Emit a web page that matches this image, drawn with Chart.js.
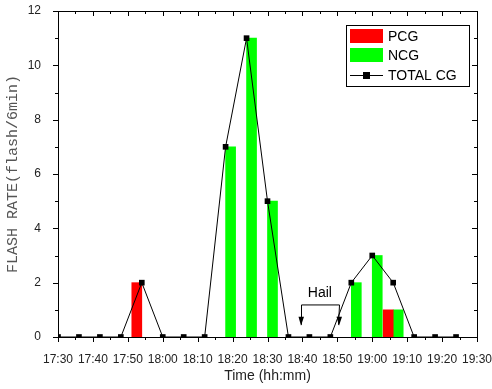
<!DOCTYPE html>
<html>
<head>
<meta charset="utf-8">
<script src="https://cdn.jsdelivr.net/npm/chart.js@4.4.1/dist/chart.umd.min.js"></script>
<style>
  html, body { margin: 0; padding: 0; background: #fff; }
  #wrap { width: 492px; height: 389px; }
</style>
</head>
<body>
<div id="wrap"><canvas id="myChart" width="492" height="389"></canvas></div>
<script>
    //=======================================================//
    // data (6 min bins)
    const times = ['17:30','17:36','17:42','17:48','17:54','18:00','18:06','18:12','18:18','18:24',
                   '18:30','18:36','18:42','18:48','18:54','19:00','19:06','19:12','19:18','19:24'];
    const pcg   = [0, 0, 0, 0, 2, 0, 0, 0, 0, 0,  0, 0, 0, 0, 0, 0, 1, 0, 0, 0];
    const ncg   = [0, 0, 0, 0, 0, 0, 0, 0, 7, 11, 5, 0, 0, 0, 2, 3, 1, 0, 0, 0];
    const total = [0, 0, 0, 0, 2, 0, 0, 0, 7, 11, 5, 0, 0, 0, 2, 3, 2, 0, 0, 0];
    const yTicks = [0, 2, 4, 6, 8, 10, 12];
    const hailSpan = ['18:39:30', '18:50:30'];

    function toMin(s) {
      const p = s.split(':').map(Number);
      return p[0] * 60 + p[1] + (p[2] || 0) / 60;
    }
    function fmt(m) {
      const h = Math.floor(m / 60), mm = Math.round(m % 60);
      return h + ':' + (mm < 10 ? '0' : '') + mm;
    }

    const xMin = toMin('17:30'), xMax = toMin('19:30');
    const pcgData = times.map((t, i) => ({ x: toMin(t), y: pcg[i] || null }));
    const ncgData = times.map((t, i) => ({ x: toMin(t), y: ncg[i] || null }));
    const totalData = times.map((t, i) => ({ x: toMin(t), y: total[i] }));

    // frame, minor ticks, mirrored ticks
    const framePlugin = {
      id: 'frame',
      afterDraw(chart) {
        const c = chart.ctx, a = chart.chartArea;
        const x = chart.scales.x, y = chart.scales.y;
        c.save();
        c.strokeStyle = '#000';
        c.lineWidth = 1;
        c.strokeRect(Math.round(a.left) + 0.5, Math.round(a.top) + 0.5,
                     Math.round(a.right - a.left), Math.round(a.bottom - a.top));
        c.beginPath();
        for (let m = xMin; m <= xMax; m += 5) {
          const px = Math.round(x.getPixelForValue(m)) + 0.5;
          const len = (m % 10 === 0) ? 5 : 3;
          c.moveTo(px, a.bottom); c.lineTo(px, a.bottom + len);
          c.moveTo(px, a.top); c.lineTo(px, a.top + len);
        }
        for (let v = 0; v <= 12; v += 1) {
          const py = Math.round(y.getPixelForValue(v)) + 0.5;
          const len = (v % 2 === 0) ? 5 : 3;
          c.moveTo(a.left, py); c.lineTo(a.left - len, py);
          c.moveTo(a.right, py); c.lineTo(a.right - len, py);
        }
        c.stroke();

        // legend
        const lx = 346, ly = 25, lw = 123, lh = 61;
        c.fillStyle = '#fff';
        c.fillRect(lx, ly, lw, lh);
        c.strokeRect(lx + 0.5, ly + 0.5, lw, lh);
        c.fillStyle = '#ff0000';
        c.fillRect(350, 29, 33, 14);
        c.fillStyle = '#00ff00';
        c.fillRect(350, 48, 33, 14);
        c.beginPath();
        c.moveTo(350, 75.5); c.lineTo(383, 75.5);
        c.stroke();
        c.fillStyle = '#000';
        c.fillRect(363, 72, 7, 7);
        c.font = '14px "Liberation Sans", Arial, sans-serif';
        c.textBaseline = 'middle';
        c.fillText('PCG', 388, 37);
        c.fillText('NCG', 388, 56);
        c.fillText('TOTAL CG', 388, 76);

        // hail marker
        const h1 = x.getPixelForValue(toMin(hailSpan[0]));
        const h2 = x.getPixelForValue(toMin(hailSpan[1]));
        const yl = y.getPixelForValue(1.18), ya = y.getPixelForValue(0.45);
        c.beginPath();
        c.moveTo(Math.round(h1) + 0.5, ya); c.lineTo(Math.round(h1) + 0.5, yl);
        c.lineTo(Math.round(h2) + 0.5, yl); c.lineTo(Math.round(h2) - 0.5, ya);
        c.stroke();
        [h1, h2].forEach(hx => {
          const px = Math.round(hx);
          c.beginPath();
          c.moveTo(px - 2.5, ya - 8); c.lineTo(px + 3, ya - 8); c.lineTo(px, ya + 1);
          c.closePath();
          c.fill();
        });
        c.textAlign = 'center';
        c.fillText('Hail', (h1 + h2) / 2, y.getPixelForValue(1.62));
        c.restore();
      }
    };

    const ctx = document.getElementById('myChart');
    new Chart(ctx, {
      data: {
        datasets: [
          {
            type: 'bar',
            label: 'PCG',
            data: pcgData,
            backgroundColor: '#ff0000',
            borderWidth: 0,
            barThickness: 10,
            order: 2
          },
          {
            type: 'bar',
            label: 'NCG',
            data: ncgData,
            backgroundColor: '#00ff00',
            borderWidth: 0,
            barThickness: 10,
            order: 2
          },
          {
            type: 'line',
            label: 'TOTAL CG',
            data: totalData,
            borderColor: '#000',
            borderWidth: 1,
            backgroundColor: '#000',
            pointStyle: 'rect',
            pointRadius: 4,
            pointBorderWidth: 0,
            tension: 0,
            order: 1
          }
        ]
      },
      options: {
        responsive: false,
        animation: false,
        layout: { padding: { top: 11, right: 15, left: 0, bottom: 0 } },
        scales: {
          x: {
            type: 'linear',
            min: xMin,
            max: xMax,
            offset: false,
            grid: { display: false },
            border: { display: false },
            ticks: {
              stepSize: 10,
              padding: 7,
              maxRotation: 0,
              autoSkip: false,
              color: '#222',
              font: { family: '"Liberation Sans", Arial, sans-serif', size: 12 },
              callback: v => fmt(v)
            },
            title: {
              display: true,
              text: 'Time (hh:mm)',
              color: '#222',
              font: { family: '"Liberation Sans", Arial, sans-serif', size: 14 },
              padding: { top: 6 }
            },
            afterFit: s => { s.height = 52; s.paddingLeft = 0; s.paddingRight = 0; }
          },
          y: {
            min: 0,
            max: 12,
            grid: { display: false },
            border: { display: false },
            afterBuildTicks: s => { s.ticks = yTicks.map(v => ({ value: v })); },
            ticks: {
              padding: 9,
              color: '#222',
              font: { family: '"Liberation Sans", Arial, sans-serif', size: 12 }
            },
            title: {
              display: true,
              text: 'FLASH RATE(flash/6min)',
              color: '#555',
              font: { family: '"Liberation Mono", "DejaVu Sans Mono", monospace', size: 15 },
              padding: { top: 4, bottom: 6 }
            },
            afterFit: s => { s.width = 58; s.paddingTop = 0; s.paddingBottom = 0; }
          }
        },
        plugins: {
          legend: { display: false },
          tooltip: { enabled: false }
        }
      },
      plugins: [framePlugin]
    });
</script>
</body>
</html>
